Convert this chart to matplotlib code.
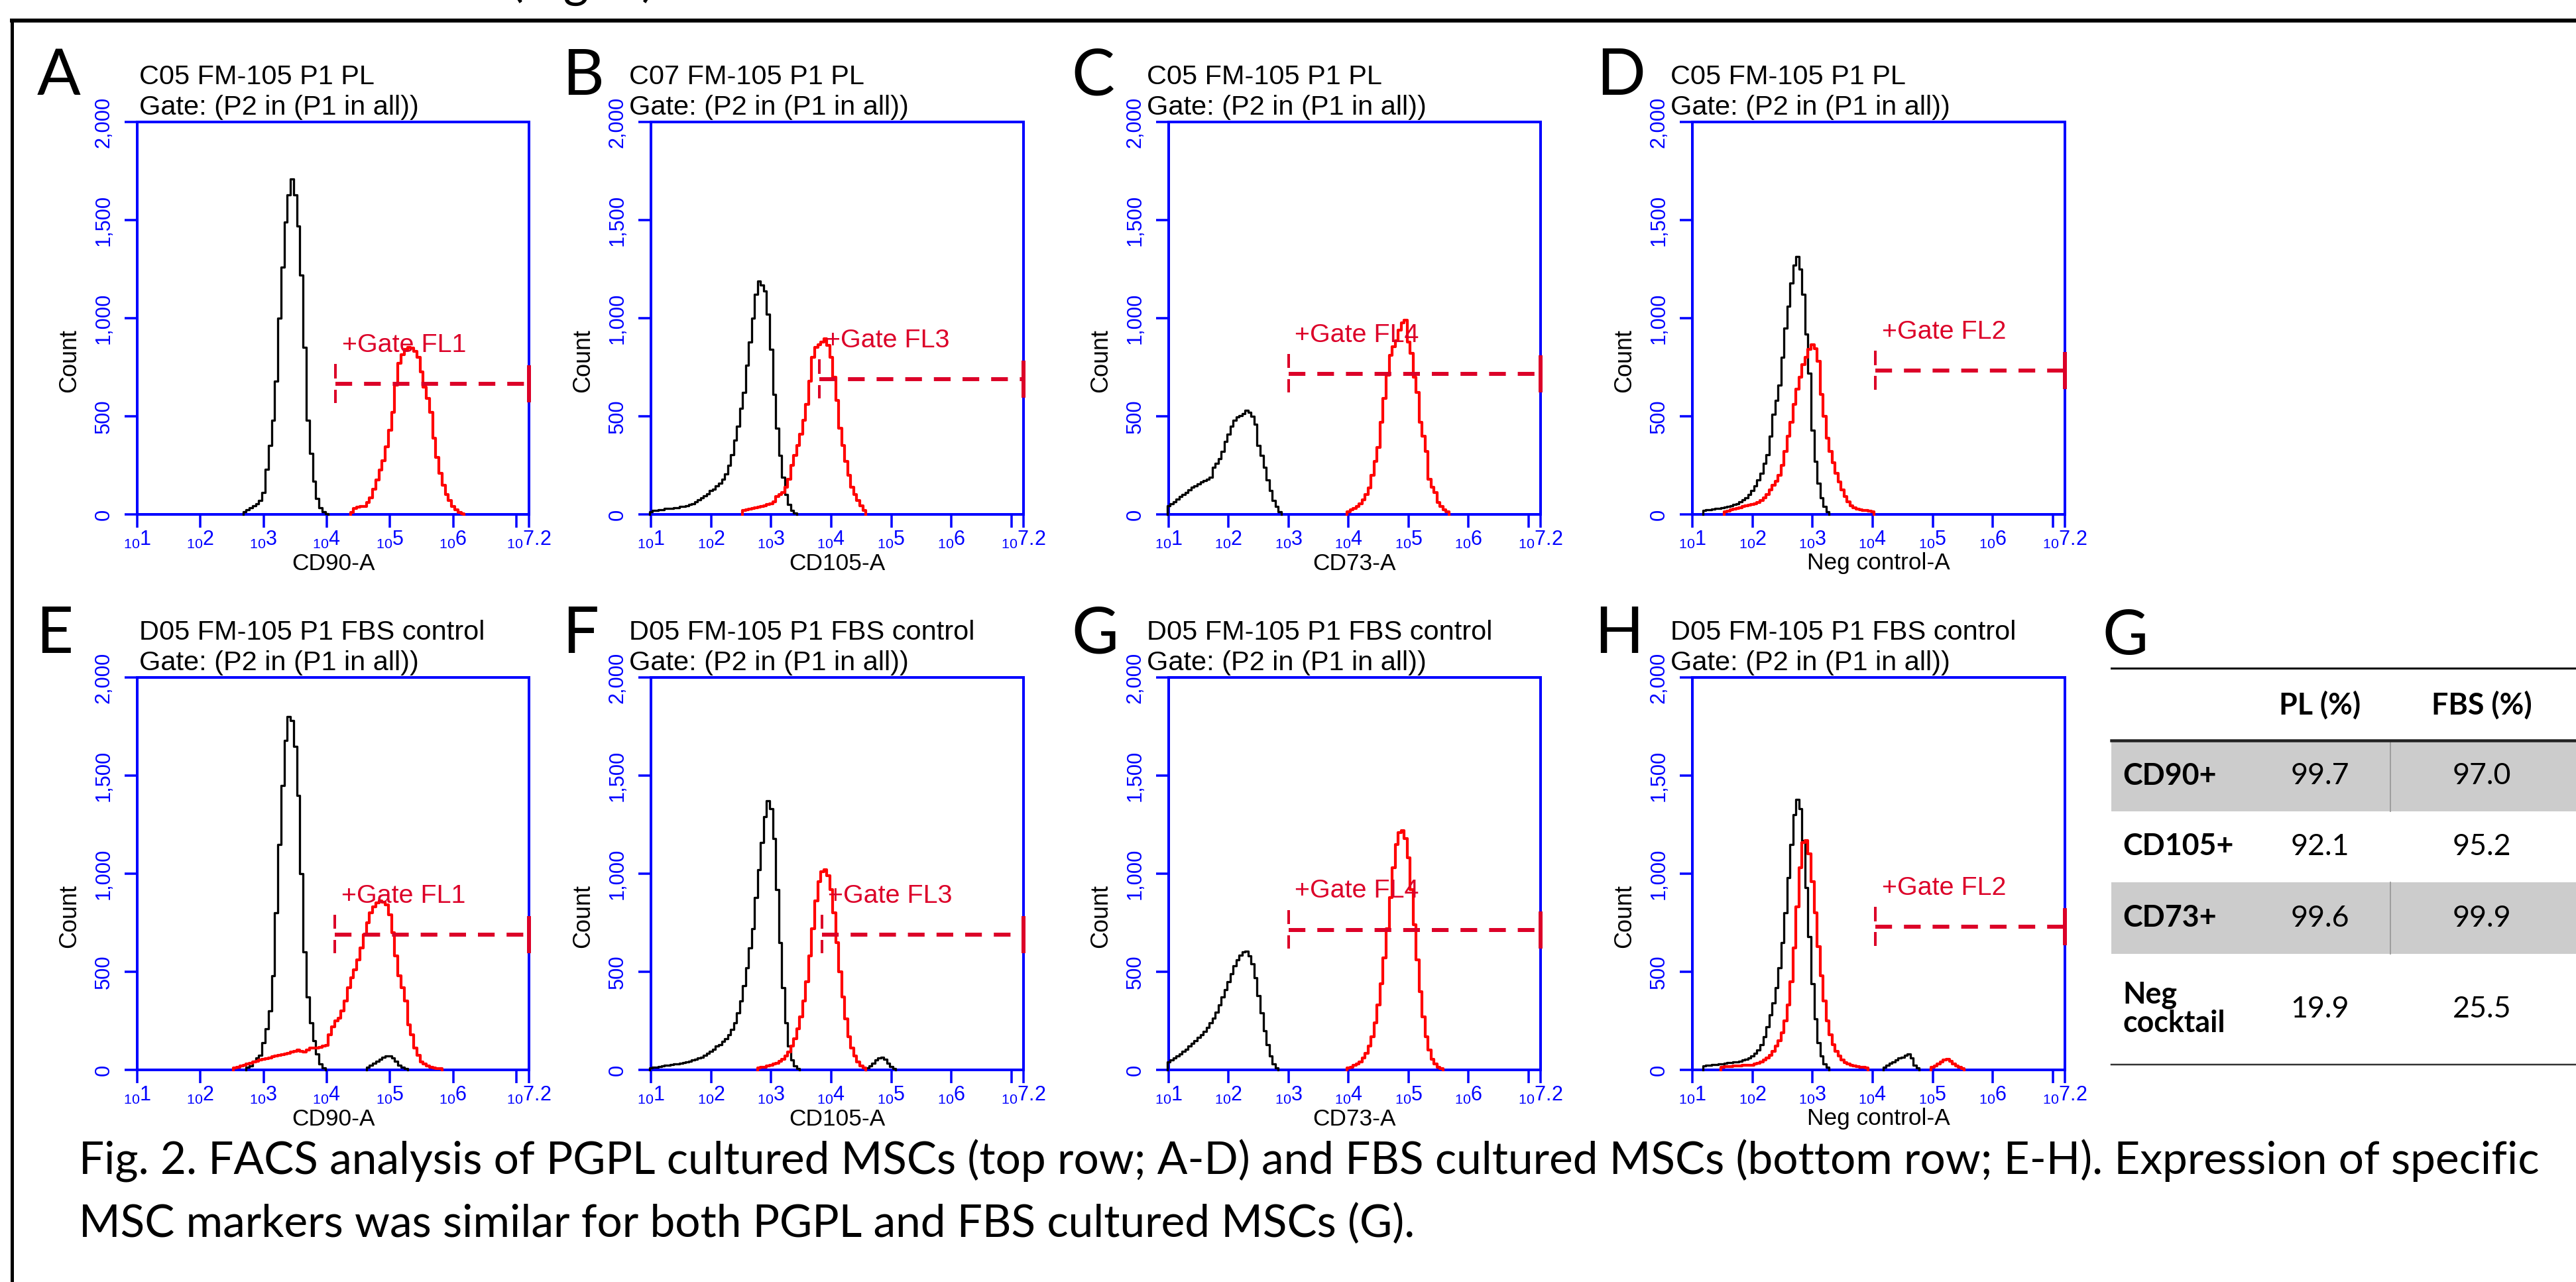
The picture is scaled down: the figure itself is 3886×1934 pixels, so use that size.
import numpy as np
import matplotlib
matplotlib.use("Agg")
import matplotlib.pyplot as plt
from matplotlib import font_manager as fm
from matplotlib.ticker import LogLocator, NullFormatter, FixedLocator, FixedFormatter
from matplotlib.patches import Rectangle

# ------------------------------------------------------------------ data
BIN = 0.05  # histogram bin width (decades)

panel_letters = ["A", "B", "C", "D", "E", "F", "G", "H"]
panel_titles = ["C05 FM-105 P1 PL", "C07 FM-105 P1 PL", "C05 FM-105 P1 PL", "C05 FM-105 P1 PL",
                "D05 FM-105 P1 FBS control", "D05 FM-105 P1 FBS control",
                "D05 FM-105 P1 FBS control", "D05 FM-105 P1 FBS control"]
gate_title = "Gate: (P2 in (P1 in all))"
x_labels = ["CD90-A", "CD105-A", "CD73-A", "Neg control-A",
            "CD90-A", "CD105-A", "CD73-A", "Neg control-A"]
gate_names = ["FL1", "FL3", "FL4", "FL2", "FL1", "FL3", "FL4", "FL2"]
gate_log_x = [4.14, 3.80, 3.00, 4.05, 4.13, 3.85, 3.00, 4.05]
gate_count = [665, 688, 717, 733, 690, 690, 714, 730]

y_ticks = [0, 500, 1000, 1500, 2000]
y_tick_labels = ["0", "500", "1,000", "1,500", "2,000"]
x_tick_exp = [1, 2, 3, 4, 5, 6, 7, 7.2]
x_tick_text = ["1", "2", "3", "4", "5", "6", "", "7.2"]

# histograms: list of (start log10, counts per 0.05-decade bin)
black_A = [(2.70, [15, 25, 35, 45, 55, 70, 110, 230, 350, 480, 680, 1000, 1260, 1490, 1630,
                   1710, 1630, 1470, 1220, 850, 480, 310, 170, 80, 35, 12, 5])]
red_A = [(4.40, [10, 30, 38, 40, 42, 60, 85, 130, 175, 225, 275, 345, 430, 520, 660, 770, 815, 840,
                 850, 848, 830, 800, 725, 650, 590, 520, 390, 290, 210, 150, 100, 70, 42, 25, 10, 5])]
black_B = [(1.00, [15, 20, 20, 25, 25, 30, 30, 30, 35, 35, 40, 40, 45, 50, 55, 65, 75, 85, 95, 105,
                   120, 130, 145, 160, 180, 205, 250, 305, 380, 450, 540, 620, 760, 880, 1000, 1120,
                   1190, 1170, 1140, 1020, 840, 610, 440, 300, 190, 100, 50, 20, 8])]
red_B = [(2.55, [20, 25, 28, 30, 35, 38, 42, 45, 50, 55, 65, 90, 100, 110, 140, 180, 250, 300, 350,
                 410, 480, 560, 680, 800, 850, 865, 880, 895, 860, 800, 700, 580, 440, 350, 270, 200,
                 140, 100, 70, 45, 20])]
black_C = [(1.00, [45, 55, 65, 78, 90, 100, 110, 125, 138, 145, 155, 165, 172, 180, 190, 240, 260,
                   285, 320, 370, 410, 450, 480, 495, 505, 515, 530, 520, 500, 460, 350, 300, 240,
                   175, 120, 70, 40, 12])]
red_C = [(4.00, [15, 22, 30, 40, 55, 75, 100, 135, 200, 270, 340, 470, 590, 710, 810, 855, 885, 940,
                 975, 990, 880, 820, 700, 620, 470, 400, 320, 180, 140, 110, 60, 40, 25, 15])]
black_D = [(1.20, [20, 25, 25, 28, 30, 32, 35, 38, 42, 45, 50, 55, 65, 75, 85, 100, 120, 145, 175,
                   210, 260, 305, 400, 510, 580, 660, 800, 950, 1060, 1180, 1270, 1315, 1250, 1120,
                   920, 720, 430, 270, 160, 85, 40, 15])]
red_D = [(1.55, [15, 18, 22, 26, 30, 35, 40, 44, 48, 50, 55, 62, 72, 85, 100, 125, 150, 170, 200, 250,
                 320, 400, 470, 560, 640, 700, 765, 800, 840, 865, 845, 780, 610, 500, 390, 320, 265,
                 210, 165, 125, 90, 65, 45, 35, 28, 22, 20, 20, 18, 15])]
black_E = [(2.75, [15, 20, 45, 60, 75, 140, 210, 300, 480, 800, 1150, 1450, 1680, 1800, 1780, 1650,
                   1400, 1000, 600, 370, 240, 150, 80, 30, 10]),
           (4.65, [15, 25, 35, 45, 55, 65, 70, 70, 62, 45, 25, 12, 8])]
red_E = [(2.55, [10, 15, 20, 25, 30, 35, 40, 45, 50, 55, 58, 62, 66, 70, 74, 78, 82, 86, 90, 95,
                 100, 95, 90, 100, 110, 110, 112, 115, 120, 125, 180, 220, 250, 265, 300, 350, 420,
                 470, 510, 560, 620, 690, 750, 800, 830, 850, 860, 855, 840, 790, 700, 580, 480, 420,
                 350, 230, 180, 110, 75, 40, 30, 20, 15, 10, 8, 8])]
black_F = [(1.00, [10, 12, 15, 18, 20, 22, 25, 28, 30, 32, 35, 38, 40, 45, 50, 55, 60, 65, 75, 85,
                   95, 105, 120, 130, 145, 160, 180, 205, 240, 290, 350, 430, 520, 620, 720, 880,
                   1020, 1160, 1290, 1370, 1330, 1180, 920, 650, 420, 240, 120, 50, 20, 8]),
           (4.60, [10, 20, 35, 50, 62, 65, 55, 35, 18, 8])]
red_F = [(2.80, [10, 12, 15, 20, 25, 30, 35, 45, 55, 70, 90, 120, 160, 210, 270, 350, 450, 580, 720,
                 860, 960, 1010, 1020, 990, 920, 800, 650, 500, 370, 260, 170, 110, 70, 40, 20, 10])]
black_G = [(1.00, [40, 50, 60, 70, 80, 95, 105, 120, 135, 150, 165, 180, 195, 215, 240, 265, 295, 330,
                   370, 410, 450, 490, 530, 560, 585, 600, 605, 580, 540, 470, 380, 290, 200, 130,
                   70, 30, 10])]
red_G = [(4.00, [10, 15, 22, 30, 42, 60, 85, 120, 170, 240, 330, 440, 570, 720, 880, 1030, 1150, 1210,
                 1220, 1180, 1080, 920, 740, 560, 400, 270, 170, 100, 55, 30, 15, 8])]
black_H = [(1.20, [20, 22, 24, 26, 28, 30, 32, 34, 36, 38, 40, 42, 45, 50, 55, 60, 70, 85, 100, 130,
                   170, 220, 280, 340, 420, 520, 650, 800, 980, 1150, 1300, 1380, 1330, 1170, 930,
                   680, 440, 260, 140, 70, 30, 12]),
           (4.20, [15, 25, 35, 40, 50, 60, 65, 75, 80, 60, 25, 10])]
red_H = [(1.50, [15, 16, 17, 18, 19, 20, 21, 22, 23, 24, 25, 30, 35, 40, 50, 60, 75, 95, 120, 150,
                 190, 250, 330, 450, 620, 830, 1030, 1160, 1170, 1100, 960, 800, 630, 480, 350, 250,
                 180, 130, 95, 70, 50, 38, 30, 25, 20, 18, 15, 12, 10]),
         (5.00, [12, 20, 30, 40, 50, 55, 45, 30, 20, 12, 8])]

black_curves = [black_A, black_B, black_C, black_D, black_E, black_F, black_G, black_H]
red_curves = [red_A, red_B, red_C, red_D, red_E, red_F, red_G, red_H]

table_title = "G"
table_cols = ["PL (%)", "FBS (%)"]
table_rows = ["CD90+", "CD105+", "CD73+", "Neg\ncocktail"]
table_pl = ["99.7", "92.1", "99.6", "19.9"]
table_fbs = ["97.0", "95.2", "99.9", "25.5"]

caption_lines = [
    "Fig. 2. FACS analysis of PGPL cultured MSCs (top row; A-D) and FBS cultured MSCs "
    "(bottom row; E-H). Expression of specific",
    "MSC markers was similar for both PGPL and FBS cultured MSCs (G).",
]
top_fragment = "(Fig. 2)"

# ------------------------------------------------------------------ layout / style
W, H = 3887, 1934
PX = 0.72  # points per pixel at dpi 100
COLS = [(207, 798), (982, 1544), (1763, 2324), (2553, 3115)]
ROWS = [(184, 776), (1022, 1614)]
LETTER_POS = [(56, 143), (848, 143), (1616, 143), (2408, 143),
              (54, 985), (848, 985), (1616, 985), (2405, 985)]
TITLE_DX = [3, -33, -33, -33, 3, -33, -33, -33]
FRAME_X, FRAME_Y = 18, 31
BLUE = "#0000FF"
RED = "#FF0000"
GATE = "#DC0028"

names = {f.name for f in fm.fontManager.ttflist}
FACS = "Liberation Sans Narrow" if "Liberation Sans Narrow" in names else "Liberation Sans"
CAL = "Lato" if "Lato" in names else "DejaVu Sans"
plt.rcParams["font.family"] = [FACS, "DejaVu Sans"]

fig = plt.figure(figsize=(W / 100, H / 100), dpi=100)
fig.patch.set_facecolor("white")
R = fig.canvas.get_renderer()


def size_for(text, family, target, weight="normal", base=30.0):
    t = fig.text(0, 0, text, fontfamily=family, fontsize=base, fontweight=weight)
    w = t.get_window_extent(R).width
    t.remove()
    return base * target / w


ov = fig.add_axes([0, 0, 1, 1])
ov.set_xlim(0, W)
ov.set_ylim(H, 0)
ov.axis("off")

# frame
ov.plot([FRAME_X, W + 20], [FRAME_Y, FRAME_Y], color="black", lw=6 * PX, solid_capstyle="projecting")
ov.plot([FRAME_X, FRAME_X], [FRAME_Y, H + 20], color="black", lw=5 * PX, solid_capstyle="projecting")

fs_title = size_for(gate_title, FACS, 421)
fs_ytick = size_for("2,000", FACS, 77)
fs_gate = size_for("+Gate FL1", FACS, 187)
fs_xlab = size_for("Neg control-A", FACS, 215)
fs_count = size_for("Count", FACS, 96)
fs_cap = size_for(caption_lines[0], CAL, 3711)


def draw_hist(ax, segments, color, lw):
    for start, vals in segments:
        vals = np.asarray(vals, dtype=float)
        edges = start - BIN / 2 + BIN * np.arange(len(vals) + 1)
        xs = np.repeat(10.0 ** edges, 2)
        ys = np.concatenate([[0.0], np.repeat(vals, 2), [0.0]])
        ax.plot(xs, ys, color=color, lw=lw, clip_on=False, zorder=4)


for i in range(8):
    c, r = i % 4, i // 4
    x0, x1 = COLS[c]
    y0, y1 = ROWS[r]
    ax = fig.add_axes([x0 / W, 1 - y1 / H, (x1 - x0) / W, (y1 - y0) / H])
    ax.set_xscale("log")
    ax.set_xlim(10, 10 ** 7.2)
    ax.set_ylim(0, 2000)
    for s in ax.spines.values():
        s.set_color(BLUE)
        s.set_linewidth(4 * PX)
    ax.xaxis.set_major_locator(FixedLocator([10.0 ** e for e in x_tick_exp]))
    ax.xaxis.set_major_formatter(FixedFormatter(
        [r"$_{\mathregular{10}}\mathregular{%s}$" % t if t else "" for t in x_tick_text]))
    ax.xaxis.set_minor_locator(LogLocator(base=10, subs=np.arange(2, 10)))
    ax.xaxis.set_minor_formatter(NullFormatter())
    ax.set_yticks(y_ticks)
    ax.set_yticklabels(y_tick_labels, rotation=90, va="center", color=BLUE,
                       fontfamily=FACS, fontsize=fs_ytick)
    ax.tick_params(which="both", direction="out", color=BLUE, width=3.5 * PX)
    ax.tick_params(axis="x", which="major", length=20 * PX, pad=2, labelcolor=BLUE, labelsize=22)
    ax.tick_params(axis="x", which="minor", length=18 * PX)
    ax.tick_params(axis="y", length=19 * PX, pad=12)

    draw_hist(ax, black_curves[i], "black", 3.3 * PX)
    draw_hist(ax, red_curves[i], RED, 4.2 * PX)

    # gate marker
    gx, gy = 10 ** gate_log_x[i], gate_count[i]
    xe = 10 ** 7.2
    ax.plot([gx, xe], [gy, gy], color=GATE, lw=6 * PX, dashes=(4.2, 3.0), zorder=5, clip_on=False)
    ax.plot([gx, gx], [gy + 35, gy + 95], color=GATE, lw=4 * PX, zorder=5)
    ax.plot([gx, gx], [gy - 90, gy - 35], color=GATE, lw=4 * PX, zorder=5)
    ax.plot([xe, xe], [gy - 95, gy + 95], color=GATE, lw=6 * PX, zorder=5, clip_on=False,
            solid_capstyle="butt")
    ax.text(10 ** (gate_log_x[i] + 0.10), gy + 163, "+Gate " + gate_names[i], color=GATE,
            fontfamily=FACS, fontsize=fs_gate, va="baseline", ha="left", zorder=6)

    # texts in pixel space
    ov.text(x0 + TITLE_DX[i], y0 - 57, panel_titles[i], fontfamily=FACS, fontsize=fs_title,
            va="baseline", ha="left", color="black")
    ov.text(x0 + TITLE_DX[i], y0 - 11, gate_title, fontfamily=FACS, fontsize=fs_title,
            va="baseline", ha="left", color="black")
    ov.text((x0 + x1) / 2, y1 + 74, x_labels[i], fontfamily=FACS, fontsize=fs_xlab,
            va="center", ha="center", color="black")
    ov.text(x0 - 102, y1 - 232, "Count", fontfamily=FACS, fontsize=fs_count, rotation=90,
            va="center", ha="center", color="black")
    lx, ly = LETTER_POS[i]
    ov.text(lx, ly, panel_letters[i], fontfamily=CAL, fontsize=70, va="baseline", ha="left",
            color="black")

# ------------------------------------------------------------------ table
TX0, TX1 = 3185, 3895
TOP_RULE, HEAD_Y, HEAD_RULE = 1008, 1064, 1117
ROW_EDGES = [1117, 1224, 1331, 1439, 1606]
COL_CX = [3500, 3744]
LABEL_X = 3202
SEP_X = 3606
fs_tab = size_for("CD105+", CAL, 167, weight="bold")

ov.text(3171, 987, table_title, fontfamily=CAL, fontsize=68, va="baseline", ha="left")
for k in range(len(table_rows)):
    ra, rb = ROW_EDGES[k], ROW_EDGES[k + 1]
    if k % 2 == 0:
        ov.add_patch(Rectangle((TX0, ra), TX1 - TX0, rb - ra, facecolor="#CCCCCC",
                               edgecolor="none", zorder=1))
        ov.plot([SEP_X, SEP_X], [ra, rb], color="#9A9A9A", lw=1.3, zorder=2)
    cy = (ra + rb) / 2
    ov.text(LABEL_X, cy, table_rows[k], fontfamily=CAL, fontweight="bold", fontsize=fs_tab,
            va="center", ha="left", linespacing=1.05, zorder=3)
    ov.text(COL_CX[0], cy, table_pl[k], fontfamily=CAL, fontsize=fs_tab, va="center",
            ha="center", zorder=3)
    ov.text(COL_CX[1], cy, table_fbs[k], fontfamily=CAL, fontsize=fs_tab, va="center",
            ha="center", zorder=3)
for j, col in enumerate(table_cols):
    ov.text(COL_CX[j], HEAD_Y, col, fontfamily=CAL, fontweight="bold", fontsize=fs_tab,
            va="center", ha="center", zorder=3)
ov.plot([TX0, TX1], [TOP_RULE, TOP_RULE], color="black", lw=3 * PX, zorder=4)
ov.plot([TX0, TX1], [HEAD_RULE, HEAD_RULE], color="#222222", lw=4.5 * PX, zorder=4)
ov.plot([TX0, TX1], [ROW_EDGES[-1], ROW_EDGES[-1]], color="#333333", lw=2.5 * PX, zorder=4)

# ------------------------------------------------------------------ caption
ov.text(119, 1772, caption_lines[0], fontfamily=CAL, fontsize=fs_cap, va="baseline", ha="left")
ov.text(119, 1866, caption_lines[1], fontfamily=CAL, fontsize=fs_cap, va="baseline", ha="left")
ov.text(770, -6, top_fragment, fontfamily=CAL, fontsize=fs_cap * 1.1, va="baseline", ha="left")

fig.savefig("out.png", dpi=100, facecolor="white")
